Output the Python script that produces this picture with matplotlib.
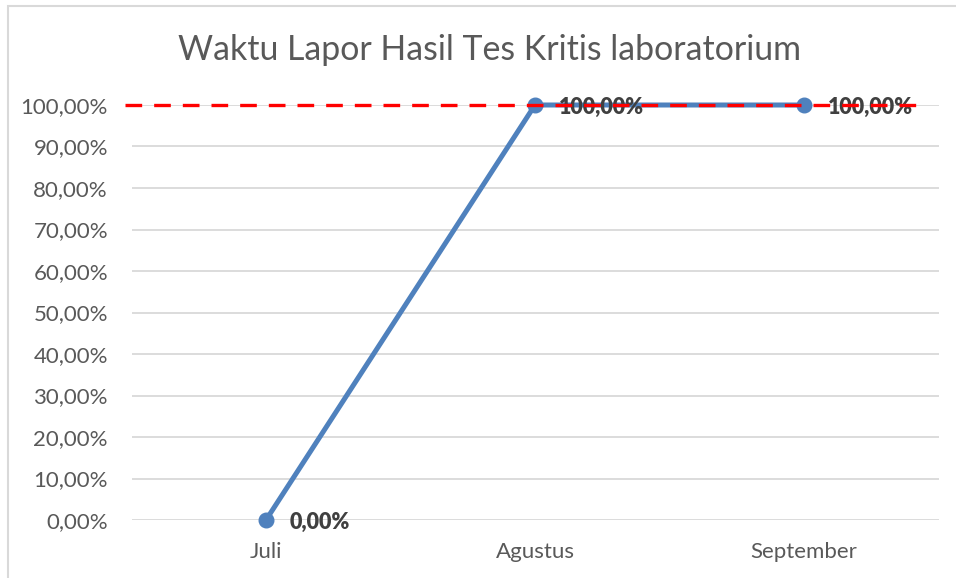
import matplotlib.pyplot as plt
from matplotlib.patches import Rectangle
from matplotlib.ticker import FuncFormatter

plt.rc('font', family=['Lato', 'DejaVu Sans'])

# DATA
months = ['Juli', 'Agustus', 'September']
capaian = [0.0, 100.0, 100.0]
target = 100.0
title = 'Waktu Lapor Hasil Tes Kritis laboratorium'


def pct(v, pos=None):
    return '{:.2f}%'.format(v).replace('.', ',')


fig = plt.figure(figsize=(9.56, 5.78), dpi=100)
ax = fig.add_axes([131.5 / 956, 58 / 578, 807 / 956, 415 / 578])

# chart border
fig.patches.append(Rectangle((8 / 956, -0.1), 1.2, (578 - 6) / 578 + 0.1,
                             transform=fig.transFigure, fill=False,
                             edgecolor='#D9D9D9', linewidth=1.5))

x = list(range(len(months)))
ax.plot(x, capaian, color='#4F81BD', linewidth=3.6, marker='o',
        markersize=10.5, zorder=3, clip_on=False)
for xi, v in zip(x, capaian):
    ax.annotate(pct(v), (xi, v), xytext=(17, -1.5), textcoords='offset points',
                ha='left', va='center', fontsize=15.5, fontweight='heavy',
                color='#404040', zorder=4)

ax.plot([-0.525, 2.45], [target, target], color='#FF0000', linewidth=2.4,
        dashes=(5, 3.6), zorder=5, clip_on=False)

ax.set_xlim(-0.5, len(months) - 0.5)
ax.set_ylim(0, 100)
ax.set_yticks(range(0, 101, 10))
ax.yaxis.set_major_formatter(FuncFormatter(pct))
ax.set_xticks(x)
ax.set_xticklabels(months)
ax.grid(axis='y', color='#D9D9D9', linewidth=1.3)
ax.set_axisbelow(True)
for s in ax.spines.values():
    s.set_visible(False)
ax.tick_params(length=0, labelsize=16, colors='#595959')
ax.tick_params(axis='y', pad=17)
ax.tick_params(axis='x', pad=15.5)

fig.text(489 / 956, 1 - 50 / 578, title, ha='center', va='center',
         fontsize=24.4, color='#595959')

fig.savefig('out.png', dpi=100)
